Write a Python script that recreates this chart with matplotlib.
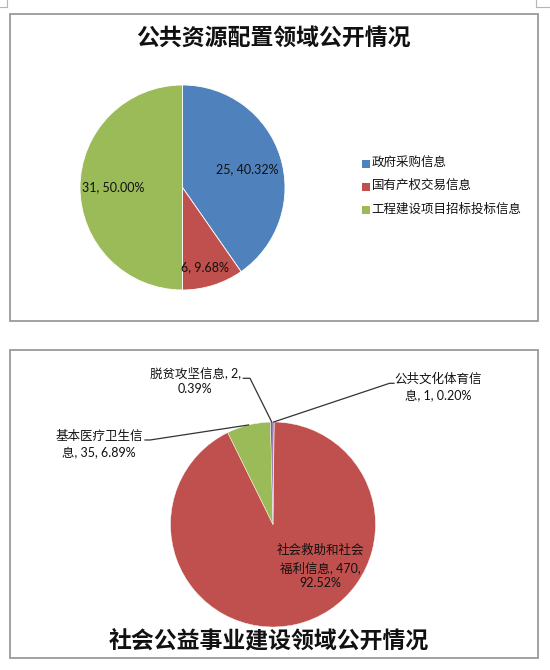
import numpy as np
import matplotlib
matplotlib.use("Agg")
import matplotlib.pyplot as plt
import matplotlib.transforms as mtransforms
from matplotlib.patches import Rectangle
from matplotlib.lines import Line2D

# ---------------- data ----------------
title1 = "公共资源配置领域公开情况"
cats1 = ["政府采购信息", "国有产权交易信息", "工程建设项目招标投标信息"]
vals1 = [25, 6, 31]
pcts1 = ["40.32%", "9.68%", "50.00%"]

title2 = "社会公益事业建设领域公开情况"
cats2 = ["公共文化体育信息", "社会救助和社会福利信息", "基本医疗卫生信息", "脱贫攻坚信息"]
vals2 = [1, 470, 35, 2]
pcts2 = ["0.20%", "92.52%", "6.89%", "0.39%"]

colors1 = ["#4F81BD", "#C0504D", "#9BBB59"]
colors2 = ["#4F81BD", "#C0504D", "#9BBB59", "#8064A2"]

# ---------------- figure ----------------
W, H = 550, 670
fig = plt.figure(figsize=(W / 100, H / 100), dpi=100)
fig.patch.set_facecolor("white")
# transform in pixel coordinates measured from top-left
tpx = mtransforms.Affine2D().scale(1 / W, -1 / H).translate(0, 1) + fig.transFigure

FONT = ["Lato", "Noto Sans CJK SC"]
TFONT = ["Noto Sans CJK SC"]


def pie_axes(cx, cy, r):
    return fig.add_axes([(cx - r) / W, 1 - (cy + r) / H, 2 * r / W, 2 * r / H])


def edge_point(cx, cy, r, wedge):
    ang = np.deg2rad((wedge.theta1 + wedge.theta2) / 2)
    return cx + r * np.cos(ang), cy - r * np.sin(ang)


def txt(x, y, s, size=9, **kw):
    fig.text(x, y, s, transform=tpx, fontsize=size, family=FONT,
             ha=kw.pop("ha", "center"), va=kw.pop("va", "center"),
             color=kw.pop("color", "#111111"), **kw)


def line(xs, ys, **kw):
    fig.add_artist(Line2D(xs, ys, transform=tpx, color=kw.pop("color", "#333333"),
                          lw=kw.pop("lw", 0.9), **kw))


# frames
for (x0, y0, x1, y1) in [(10, 13.5, 538, 320.5), (10, 350, 538, 657.5)]:
    fig.add_artist(Rectangle((x0, y0), x1 - x0, y1 - y0, transform=tpx,
                             fill=False, edgecolor="#9a9a9a", lw=1.3))
# crop marks
line([6.7, 6.7], [0, 6.7], color="#b5b5b5", lw=0.8)
line([0, 6.7], [6.7, 6.7], color="#b5b5b5", lw=0.8)
line([535.7, 535.7], [0, 6.7], color="#b5b5b5", lw=0.8)
line([535.7, 550], [6.7, 6.7], color="#b5b5b5", lw=0.8)

# ---------------- chart 1 ----------------
C1 = (182.5, 187.5, 102.5)
ax1 = pie_axes(*C1)
w1, _ = ax1.pie(vals1, colors=colors1, startangle=90, counterclock=False,
                radius=1, wedgeprops=dict(linewidth=0.6, edgecolor="white"))
ax1.set_xlim(-1, 1); ax1.set_ylim(-1, 1); ax1.set_aspect("equal"); ax1.axis("off")

fig.text(273.7, 38.3, title1, transform=tpx, fontsize=16.5, family=TFONT,
         weight="bold", ha="center", va="center", color="#111111")

lab1_pos = [(246.8, 169), (205.3, 266.7), (113.3, 187.3)]
for (x, y), v, p in zip(lab1_pos, vals1, pcts1):
    txt(x, y, f"{v}, {p}", size=9)

# legend
leg_y = [162.3, 185, 208.3]
for y, c, name in zip(leg_y, colors1, cats1):
    fig.add_artist(Rectangle((362, y - 2), 8, 8, transform=tpx, facecolor=c, edgecolor="none"))
    txt(371.5, y, name, size=9, ha="left")

# ---------------- chart 2 ----------------
C2 = (273, 524.5, 102.5)
ax2 = pie_axes(*C2)
w2, _ = ax2.pie(vals2, colors=colors2, startangle=90, counterclock=False,
                radius=1, wedgeprops=dict(linewidth=0.3, edgecolor="white"))
ax2.set_xlim(-1, 1); ax2.set_ylim(-1, 1); ax2.set_aspect("equal"); ax2.axis("off")

fig.text(268.4, 641, title2, transform=tpx, fontsize=16.5, family=TFONT,
         weight="bold", ha="center", va="center", color="#111111")

# labels (two / three lines each)
# 公共文化体育信息
txt(438.6, 378.3, cats2[0][:-1])
txt(438.6, 395.7, f"{cats2[0][-1]}, {vals2[0]}, {pcts2[0]}")
# 社会救助和社会福利信息 (inside)
txt(320, 550, cats2[1][:7])
txt(320, 567.7, f"{cats2[1][7:]}, {vals2[1]},")
txt(320, 583, pcts2[1])
# 基本医疗卫生信息
txt(99.3, 436, cats2[2][:-1])
txt(99.3, 453.3, f"{cats2[2][-1]}, {vals2[2]}, {pcts2[2]}")
# 脱贫攻坚信息
txt(195.4, 372.7, f"{cats2[3]}, {vals2[3]},")
txt(195.4, 389.3, pcts2[3])

# leader lines: label anchor -> mid-edge of its wedge
leaders = {0: [(394, 383.3), (389.5, 383.3)],
           2: [(145, 440), (150, 440)],
           3: [(243.3, 378.3), (250, 378.3)]}
for i, pts in leaders.items():
    ex, ey = edge_point(*C2, w2[i])
    xs = [p[0] for p in pts] + [ex]
    ys = [p[1] for p in pts] + [ey]
    line(xs, ys, color="#333333", lw=0.9)

fig.savefig("out.png", dpi=100, facecolor="white")
